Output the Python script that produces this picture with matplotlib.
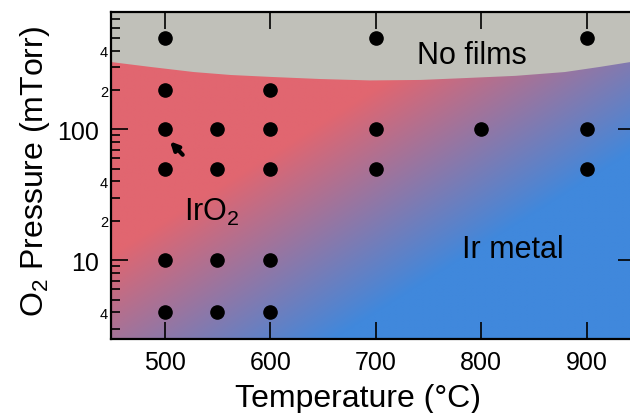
import numpy as np
import matplotlib
matplotlib.use("Agg")
import matplotlib.pyplot as plt
from matplotlib.ticker import FixedLocator, FixedFormatter, NullFormatter

plt.rcParams['font.family'] = ['Liberation Sans', 'DejaVu Sans']
plt.rcParams['mathtext.fontset'] = 'custom'
plt.rcParams['mathtext.rm'] = 'Liberation Sans'
plt.rcParams['mathtext.it'] = 'Liberation Sans'

# ---- data ----
samples_T = [500, 500, 500, 500, 500, 500,
             550, 550, 550, 550,
             600, 600, 600, 600, 600,
             700, 700, 700,
             800,
             900, 900, 900]
samples_P = [500, 200, 100, 50, 10, 4,
             100, 50, 10, 4,
             200, 100, 50, 10, 4,
             500, 100, 50,
             100,
             500, 100, 50]

# "No films" boundary
boundary_T = [449, 486, 527, 562, 601, 647, 694, 742, 784, 832, 879, 912, 946]
boundary_P = [330, 303, 277, 263, 254, 245, 239, 241, 249, 259, 277, 303, 335]

x_ticks = [500, 600, 700, 800, 900]
x_ticklabels = ['500', '600', '700', '800', '900']
y_major = [10, 100]
y_major_labels = ['10', '100']
y_minor = [3, 4, 5, 6, 7, 8, 9, 20, 30, 40, 50, 60, 70, 80, 90,
           200, 300, 400, 500, 600, 700]
y_minor_labels = ['', '4', '', '', '', '', '', '2', '', '4', '', '', '', '', '',
                  '2', '', '4', '', '', '']

RED = np.array([225, 102, 112]) / 255
BLUE = np.array([64, 136, 220]) / 255
GRAY = '#c0c0b9'

W, H = 630, 414
fig = plt.figure(figsize=(W / 100, H / 100), dpi=100)
ax_l, ax_r, ax_t, ax_b = 111, 635, 13, 340
ax = fig.add_axes([ax_l / W, (H - ax_b) / H, (ax_r - ax_l) / W, (ax_b - ax_t) / H])
ax.set_yscale('log')
ax.set_xlim(449, 946)
ax.set_ylim(2.5, 790)

# gradient background (axes coordinates)
aw, ah = ax_r - ax_l, ax_b - ax_t
xs = np.linspace(0, aw, 400)
ys = np.linspace(0, ah, 300)
X, Y = np.meshgrid(xs, ys)
x0, y0 = 283 - ax_l, ax_b - 260
nx, ny = 0.532, -0.847
d = (X - x0) * nx + (Y - y0) * ny
t = np.clip(0.5 + d / 190.0, 0, 1)
img = RED[None, None, :] * (1 - t[..., None]) + BLUE[None, None, :] * t[..., None]
ax.imshow(img, extent=[0, 1, 0, 1], transform=ax.transAxes, origin='lower',
          aspect='auto', zorder=0, interpolation='bilinear')

ax.fill_between(boundary_T, boundary_P, 1000, color=GRAY, zorder=1, lw=0)

ax.plot(samples_T, samples_P, 'o', color='black', ms=9.5, zorder=5, clip_on=False)

ax.annotate('', xy=(505, 81), xytext=(517, 64),
            arrowprops=dict(arrowstyle='-|>', lw=3, color='black',
                            mutation_scale=12, shrinkA=0, shrinkB=0), zorder=6)

ax.text(545, 23.6, r'Ir$\mathregular{O_2}$', fontsize=22, ha='center', va='center', zorder=6)
ax.text(830, 12.1, 'Ir metal', fontsize=22, ha='center', va='center', zorder=6)
ax.text(791, 371, 'No films', fontsize=22, ha='center', va='center', zorder=6)

# ticks
ax.set_xticks(x_ticks)
ax.set_xticklabels(x_ticklabels)
ax.yaxis.set_major_locator(FixedLocator(y_major))
ax.yaxis.set_major_formatter(FixedFormatter(y_major_labels))
ax.yaxis.set_minor_locator(FixedLocator(y_minor))
ax.yaxis.set_minor_formatter(FixedFormatter(y_minor_labels))
ax.xaxis.set_minor_formatter(NullFormatter())

ax.tick_params(axis='x', which='major', direction='in', top=True, bottom=True,
               length=12, width=1.2, labelsize=18, pad=8)
ax.tick_params(axis='x', which='minor', bottom=False, top=False)
ax.tick_params(axis='y', which='major', direction='in', left=True, right=True,
               length=12, width=1.2, labelsize=18, pad=9)
ax.tick_params(axis='y', which='minor', direction='in', left=True, right=False,
               length=6.5, width=1.2, labelsize=10.5, pad=2)

for s in ax.spines.values():
    s.set_linewidth(1.6)

ax.set_xlabel('Temperature (°C)', fontsize=23)
ax.set_ylabel(r'$\mathregular{O_2}$ Pressure (mTorr)', fontsize=23)
ax.xaxis.set_label_coords((358 - ax_l) / aw, (ax_b - 384) / ah)
ax.yaxis.set_label_coords((52 - ax_l) / aw, (ax_b - 171) / ah)

fig.savefig('out.png', dpi=100)
